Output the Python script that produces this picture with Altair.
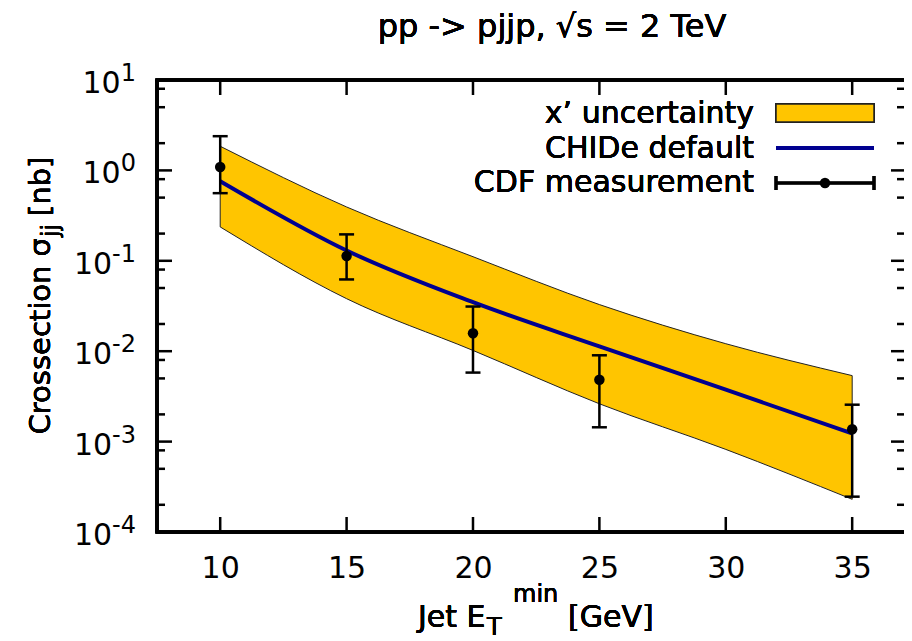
import altair as alt
import pandas as pd

# ---------------- data ----------------
et = [10, 15, 20, 25, 30, 35]
chide_default = [0.759, 0.130, 0.0348, 0.0113, 0.00375, 0.00123]
band_hi = [1.85, 0.394, 0.111, 0.0328, 0.0121, 0.00537]
band_lo = [0.237, 0.0381, 0.0102, 0.00262, 0.00082, 0.00023]

cdf_et = [10, 15, 20, 25, 35]
cdf_val = [1.09, 0.113, 0.0158, 0.00484, 0.00137]
cdf_hi = [2.39, 0.196, 0.0312, 0.00901, 0.00256]
cdf_lo = [0.56, 0.0622, 0.0058, 0.00144, 0.000246]

x_ticks = [10, 15, 20, 25, 30, 35]
y_major = [10, 1, 0.1, 0.01, 0.001, 0.0001]
y_exp = ["1", "0", "-1", "-2", "-3", "-4"]
y_minor = [m * 10.0 ** k for k in range(-4, 1) for m in (2, 5, 8)]

title_text = "pp -> pjjp, \u221as = 2 TeV"
legend_labels = ["x\u2019 uncertainty", "CHIDe default", "CDF measurement"]

# ---------------- styling ----------------
FONT = "DejaVu Sans"
GOLD = "#ffc500"
BLUE = "#000090"
W, H = 747, 452

xs = alt.Scale(domain=[7.5, 37.05], nice=False, zero=False)
ys = alt.Scale(type="log", domain=[1e-4, 10], nice=False)
xaxis = alt.Axis(values=x_ticks, format="d", title=None, grid=False, domain=False,
                 ticks=False, tickSize=0, labelFont=FONT, labelFontSize=30,
                 labelColor="black", labelPadding=21)


def X(f):
    return alt.X(f, type="quantitative", scale=xs, axis=xaxis)


def Y(f):
    return alt.Y(f, type="quantitative", scale=ys, axis=None)


band_df = pd.DataFrame({"et": et, "hi": band_hi, "lo": band_lo, "chide": chide_default})
cdf_df = pd.DataFrame({"et": cdf_et, "v": cdf_val, "hi": cdf_hi, "lo": cdf_lo})
xt_df = pd.DataFrame({"v": x_ticks})
ymaj_df = pd.DataFrame({"v": y_major, "exp": y_exp})
ymin_df = pd.DataFrame({"v": y_minor})

band = alt.Chart(band_df).mark_area(
    fill=GOLD, fillOpacity=1, stroke="#222222", strokeWidth=1, interpolate="monotone"
).encode(x=X("et"), y=Y("hi"), y2="lo:Q")

line = alt.Chart(band_df).mark_line(
    color=BLUE, strokeWidth=4, interpolate="monotone"
).encode(x=X("et"), y=Y("chide"))

err = alt.Chart(cdf_df).mark_rule(color="black", strokeWidth=2.5).encode(
    x=X("et"), y=Y("lo"), y2="hi:Q")
cap_hi = alt.Chart(cdf_df).mark_tick(color="black", thickness=2.5, size=15,
                                      orient="horizontal", opacity=1).encode(x=X("et"), y=Y("hi"))
cap_lo = alt.Chart(cdf_df).mark_tick(color="black", thickness=2.5, size=15,
                                      orient="horizontal", opacity=1).encode(x=X("et"), y=Y("lo"))
pts = alt.Chart(cdf_df).mark_circle(color="black", size=110, opacity=1).encode(
    x=X("et"), y=Y("v"))

# inward ticks on all four sides
tk = dict(color="black", strokeWidth=2.5)
t_bottom = alt.Chart(xt_df).mark_rule(**tk).encode(x=X("v"), y=alt.value(H), y2=alt.value(H - 15))
t_top = alt.Chart(xt_df).mark_rule(**tk).encode(x=X("v"), y=alt.value(0), y2=alt.value(15))
t_left = alt.Chart(ymaj_df).mark_rule(**tk).encode(y=Y("v"), x=alt.value(0), x2=alt.value(15))
t_left_m = alt.Chart(ymin_df).mark_rule(**tk).encode(y=Y("v"), x=alt.value(0), x2=alt.value(8))
t_right = alt.Chart(ymaj_df).mark_rule(**tk).encode(y=Y("v"), x=alt.value(W - 13), x2=alt.value(W))
t_right_m = alt.Chart(ymin_df).mark_rule(**tk).encode(y=Y("v"), x=alt.value(W - 7), x2=alt.value(W))

# frame (right edge lies outside the picture)
bd = dict(color="black", strokeWidth=3)
b_top = alt.Chart(xt_df).mark_rule(**bd).encode(x=alt.value(-1.5), x2=alt.value(W), y=alt.value(0))
b_bot = alt.Chart(xt_df).mark_rule(**bd).encode(x=alt.value(-1.5), x2=alt.value(W), y=alt.value(H))
b_left = alt.Chart(xt_df).mark_rule(**bd).encode(x=alt.value(0), y=alt.value(0), y2=alt.value(H))

# y tick labels 10^k
exp_lab = alt.Chart(ymaj_df).mark_text(font=FONT, fontSize=24, align="right",
                                        baseline="alphabetic", color="black", dy=1).encode(
    y=Y("v"), x=alt.value(-21), text="exp:N")
ten_pos = alt.Chart(ymaj_df).transform_filter(alt.datum.v >= 1).mark_text(
    font=FONT, fontSize=30, align="right", baseline="alphabetic", color="black",
    dx=-15.3, dy=13, text="10").encode(y=Y("v"), x=alt.value(-21))
ten_neg = alt.Chart(ymaj_df).transform_filter(alt.datum.v < 1).mark_text(
    font=FONT, fontSize=30, align="right", baseline="alphabetic", color="black",
    dx=-23.9, dy=13, text="10").encode(y=Y("v"), x=alt.value(-21))


def txt(s, x, y, size=30, align="left", **kw):
    return alt.Chart(xt_df).mark_text(text=s, font=FONT, fontSize=size, align=align,
                                       baseline="alphabetic", color="black", **kw).encode(
        x=alt.value(x), y=alt.value(y))


title = txt(title_text, 395, -43, size=32, align="center")

# x title: Jet E_T^min [GeV]
xt1 = txt("Jet E", 261, 547)
xt2 = txt("T", 330, 555, size=24)
xt3 = txt("min", 356, 522, size=24)
xt4 = txt("[GeV]", 411, 547)

# y title: Crossection sigma_jj [nb]  (rotated, anchored at the subscript)
yt1 = txt("Crossection \u03c3", -107, 158, size=29, align="right", angle=270)
yt2 = txt("jj", -107, 158, size=23, angle=270, dx=1, dy=8)
yt3 = txt("[nb]", -107, 158, size=29, angle=270, dx=22)

# legend
lg1 = txt(legend_labels[0], 597, 43, align="right")
lg2 = txt(legend_labels[1], 597, 78, align="right")
lg3 = txt(legend_labels[2], 597, 112, align="right")
lg_box = alt.Chart(xt_df).mark_rect(fill=GOLD, stroke="#222222", strokeWidth=1.5).encode(
    x=alt.value(619), x2=alt.value(717), y=alt.value(24), y2=alt.value(42))
lg_line = alt.Chart(xt_df).mark_rule(color=BLUE, strokeWidth=4).encode(
    x=alt.value(619), x2=alt.value(717), y=alt.value(68))
lg_err = alt.Chart(xt_df).mark_rule(color="black", strokeWidth=2.5).encode(
    x=alt.value(619), x2=alt.value(717), y=alt.value(103))
lg_c1 = alt.Chart(xt_df).mark_rule(color="black", strokeWidth=2.5).encode(
    x=alt.value(619), y=alt.value(96), y2=alt.value(110))
lg_c2 = alt.Chart(xt_df).mark_rule(color="black", strokeWidth=2.5).encode(
    x=alt.value(717), y=alt.value(96), y2=alt.value(110))
lg_dot = alt.Chart(pd.DataFrame({"a": [0]})).mark_circle(color="black", size=110, opacity=1).encode(
    x=alt.value(668), y=alt.value(103))

chart = alt.layer(
    band, line, err, cap_hi, cap_lo, pts,
    t_bottom, t_top, t_left, t_left_m, t_right, t_right_m,
    b_top, b_bot, b_left,
    exp_lab, ten_pos, ten_neg,
    title, xt1, xt2, xt3, xt4, yt1, yt2, yt3,
    lg1, lg2, lg3, lg_box, lg_line, lg_err, lg_c1, lg_c2, lg_dot,
).properties(
    width=W, height=H,
    autosize=alt.AutoSizeParams(type="none"),
    padding={"left": 149, "top": 72, "right": 0, "bottom": 108},
    background="white",
).configure_view(stroke=None)

chart.save("out.html", embed_options={"renderer": "svg", "actions": False})
